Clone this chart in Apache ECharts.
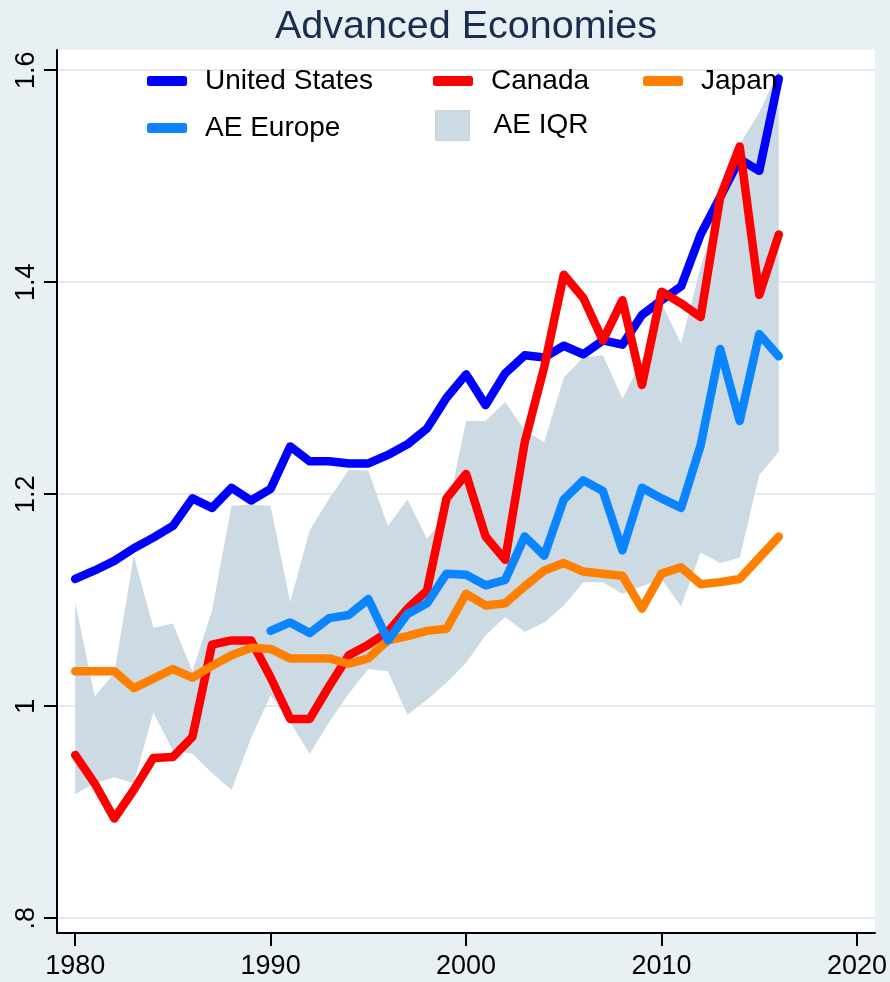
<!DOCTYPE html>
<html>
<head>
<meta charset="utf-8">
<title>Advanced Economies</title>
<script src="https://cdn.jsdelivr.net/npm/echarts/dist/echarts.min.js"></script>
<style>
  html, body { margin: 0; padding: 0; background: #e8f0f4; }
  #chart { width: 890px; height: 982px; }
</style>
</head>
<body>
<div id="chart"></div>
<script>
// Years on the horizontal axis
const years = [
  1980, 1981, 1982, 1983, 1984, 1985, 1986, 1987, 1988, 1989,
  1990, 1991, 1992, 1993, 1994, 1995, 1996, 1997, 1998, 1999,
  2000, 2001, 2002, 2003, 2004, 2005, 2006, 2007, 2008, 2009,
  2010, 2011, 2012, 2013, 2014, 2015, 2016
];

const unitedStates = [
  1.120, 1.128, 1.137, 1.149, 1.159, 1.170, 1.196, 1.187, 1.206, 1.194,
  1.205, 1.245, 1.231, 1.231, 1.229, 1.229, 1.237, 1.247, 1.262, 1.291,
  1.313, 1.284, 1.314, 1.331, 1.329, 1.340, 1.332, 1.345, 1.341, 1.369,
  1.383, 1.396, 1.445, 1.480, 1.516, 1.505, 1.592
];

const canada = [
  0.954, 0.927, 0.894, 0.921, 0.951, 0.952, 0.971, 1.058, 1.062, 1.062,
  1.027, 0.988, 0.988, 1.019, 1.048, 1.058, 1.070, 1.092, 1.109, 1.196,
  1.219, 1.160, 1.138, 1.249, 1.320, 1.407, 1.385, 1.345, 1.383, 1.303,
  1.391, 1.380, 1.367, 1.480, 1.528, 1.388, 1.445
];

const japan = [
  1.033, 1.033, 1.033, 1.017, 1.026, 1.035, 1.027, 1.038, 1.048, 1.055,
  1.054, 1.045, 1.045, 1.045, 1.040, 1.045, 1.062, 1.066, 1.071, 1.073,
  1.106, 1.095, 1.097, 1.113, 1.128, 1.135, 1.127, 1.125, 1.123, 1.092,
  1.125, 1.131, 1.115, 1.117, 1.120, 1.140, 1.160
];

// AE Europe aggregate starts in 1990
const aeEurope = [
  null, null, null, null, null, null, null, null, null, null,
  1.071, 1.079, 1.069, 1.083, 1.086, 1.101, 1.062, 1.087, 1.097, 1.125,
  1.124, 1.114, 1.119, 1.160, 1.142, 1.195, 1.213, 1.203, 1.147, 1.206,
  1.196, 1.187, 1.246, 1.337, 1.269, 1.351, 1.330
];

// Interquartile range across advanced economies
const iqrLow = [
  0.917, 0.927, 0.933, 0.927, 0.994, 0.958, 0.955, 0.937, 0.921, 0.970,
  1.010, 0.985, 0.955, 0.985, 1.012, 1.035, 1.033, 0.992, 1.006, 1.022,
  1.041, 1.067, 1.084, 1.070, 1.079, 1.095, 1.117, 1.117, 1.106, 1.113,
  1.120, 1.094, 1.145, 1.135, 1.140, 1.218, 1.240
];

const iqrHigh = [
  1.098, 1.009, 1.031, 1.142, 1.074, 1.078, 1.033, 1.090, 1.189, 1.190,
  1.189, 1.098, 1.166, 1.196, 1.223, 1.222, 1.170, 1.195, 1.158, 1.180,
  1.269, 1.269, 1.287, 1.260, 1.249, 1.310, 1.329, 1.331, 1.290, 1.326,
  1.380, 1.342, 1.414, 1.473, 1.530, 1.560, 1.600
];

const xTicks = [1980, 1990, 2000, 2010, 2020];
const yTicks = [0.8, 1.0, 1.2, 1.4, 1.6];
const yTickLabels = ['.8', '1', '1.2', '1.4', '1.6'];

// Helpers that turn the arrays into [year, value] pairs
const toPairs = vals => years.map((y, i) => [y, vals[i]]).filter(p => p[1] !== null);
const bandRows = years.map((y, i) => [y, iqrLow[i], iqrHigh[i]]);

const FONT = '"Liberation Sans", Arial, sans-serif';
const COLORS = {
  us: '#0000ff',
  canada: '#ff0000',
  japan: '#ff8000',
  europe: '#0a84ff',
  band: '#ccdae4',
  grid: '#e2ecf1'
};

const lineSeries = (name, vals, color) => ({
  name: name,
  type: 'line',
  data: toPairs(vals),
  showSymbol: false,
  color: color,
  lineStyle: { width: 8.5, color: color, cap: 'round', join: 'round' },
  emphasis: { disabled: true },
  silent: true,
  animation: false
});

const legendText = pad => ({
  fontFamily: FONT, fontSize: 28, color: '#000', lineHeight: 30,
  padding: [0, 0, 0, pad]
});

const lineLegend = (name, left, top) => ({
  data: [name], left: left, top: top, padding: 0,
  icon: 'roundRect', itemWidth: 40, itemHeight: 10,
  textStyle: legendText(13), selectedMode: false
});

// IQR band: one polygon along the upper edge and back along the lower edge
function renderBand(params, api) {
  if (params.dataIndex !== 0) return null;
  const upper = bandRows.map(r => api.coord([r[0], r[2]]));
  const lower = bandRows.slice().reverse().map(r => api.coord([r[0], r[1]]));
  return {
    type: 'polygon',
    shape: { points: upper.concat(lower) },
    style: { fill: COLORS.band }
  };
}

const chart = echarts.init(document.getElementById('chart'), null, { renderer: 'canvas' });

chart.setOption({
  backgroundColor: '#e8f0f4',
  animation: false,
  title: {
    text: 'Advanced Economies',
    left: 275, top: 7, padding: 0,
    textStyle: { fontFamily: FONT, fontSize: 39.5, fontWeight: 'normal', color: '#1b2d4e' }
  },
  legend: [
    lineLegend('United States', 147, 66),
    lineLegend('Canada', 433, 66),
    lineLegend('Japan', 643, 66),
    lineLegend('AE Europe', 147, 113),
    {
      data: [{ name: 'AE IQR', itemStyle: { color: COLORS.band, borderColor: '#c3d3df', borderWidth: 1 } }],
      left: 435, top: 110, padding: 0,
      icon: 'rect', itemWidth: 34, itemHeight: 30,
      textStyle: legendText(19), selectedMode: false
    }
  ],
  grid: {
    left: 57, right: 13, top: 50, bottom: 49,
    show: true, backgroundColor: '#ffffff', borderWidth: 0
  },
  xAxis: {
    type: 'value',
    min: 1979.07, max: 2020.92,
    axisLine: { show: true, onZero: false, lineStyle: { color: '#000', width: 2 } },
    axisTick: { show: true, length: 13, lineStyle: { color: '#000', width: 2 }, customValues: xTicks },
    axisLabel: {
      customValues: xTicks, margin: 20,
      fontFamily: FONT, fontSize: 27, color: '#000',
      formatter: v => String(Math.round(v))
    },
    splitLine: { show: false }
  },
  yAxis: {
    type: 'value',
    min: 0.786, max: 1.619,
    axisLine: { show: true, onZero: false, lineStyle: { color: '#000', width: 2 } },
    axisTick: { show: true, length: 13, lineStyle: { color: '#000', width: 2 }, customValues: yTicks },
    axisLabel: {
      customValues: yTicks, rotate: 90, margin: 17,
      fontFamily: FONT, fontSize: 27, color: '#000',
      formatter: v => {
        const i = yTicks.findIndex(t => Math.abs(t - v) < 1e-6);
        return i >= 0 ? yTickLabels[i] : '';
      }
    },
    splitLine: { show: false }
  },
  series: [
    {
      name: 'AE IQR',
      type: 'custom',
      renderItem: renderBand,
      data: bandRows,
      encode: { x: 0, y: [1, 2] },
      color: COLORS.band,
      silent: true,
      z: 1,
      markLine: {
        silent: true,
        symbol: ['none', 'none'],
        label: { show: false },
        lineStyle: { color: COLORS.grid, width: 2, type: 'solid' },
        data: yTicks.map(v => ({ yAxis: v })),
        z: 0
      }
    },
    lineSeries('United States', unitedStates, COLORS.us),
    lineSeries('Canada', canada, COLORS.canada),
    lineSeries('Japan', japan, COLORS.japan),
    lineSeries('AE Europe', aeEurope, COLORS.europe)
  ]
});
</script>
</body>
</html>
